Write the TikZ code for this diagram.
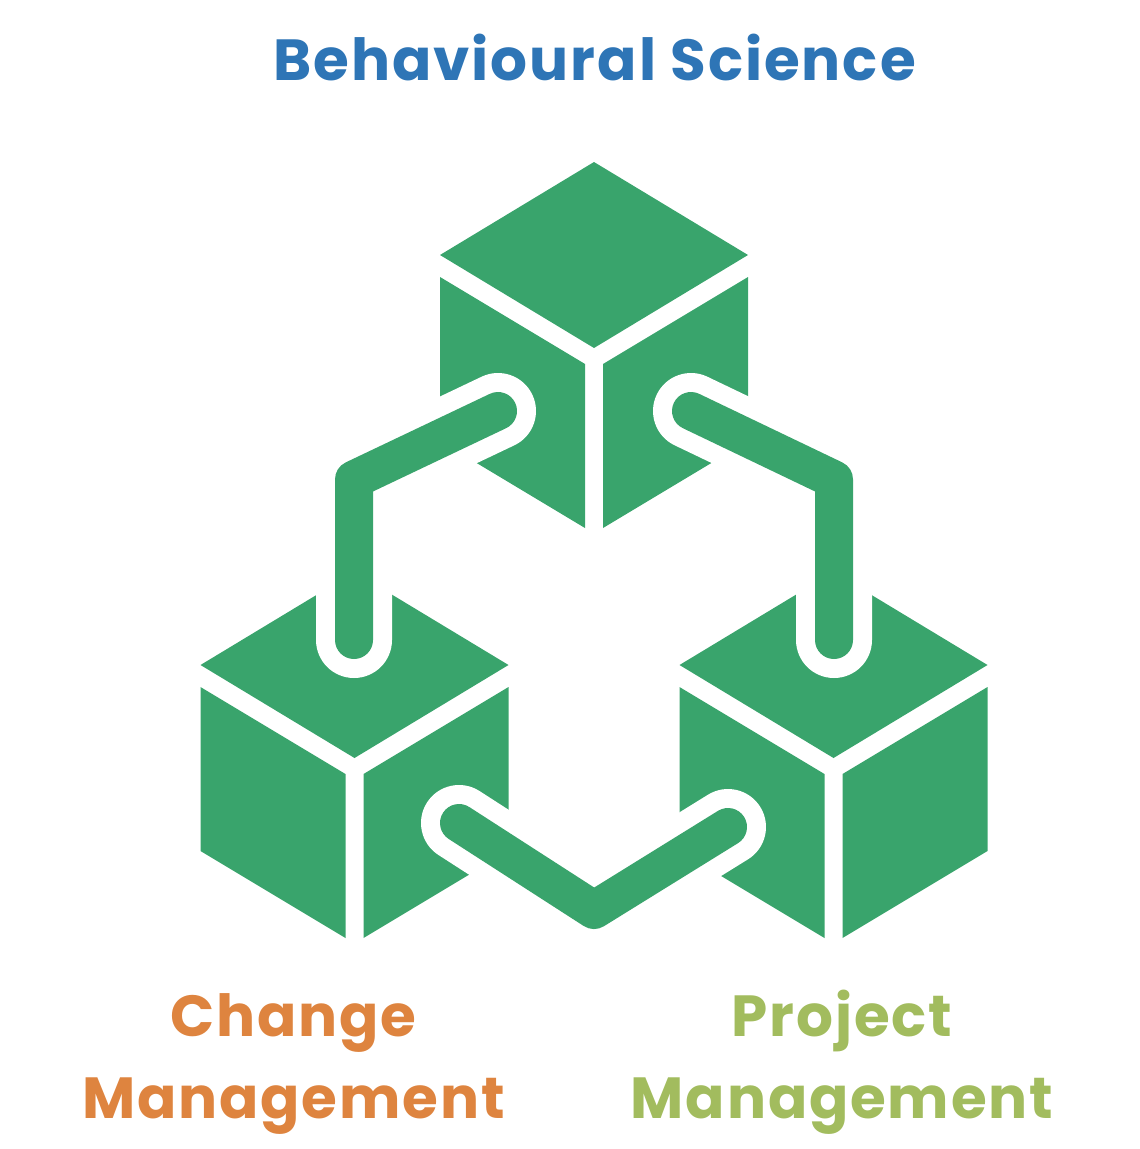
\documentclass[tikz,border=0pt]{standalone}
\usepackage{fontspec}
\newfontfamily\labelfont[LetterSpace=3.1]{Poppins Bold}
\newfontfamily\headfont[LetterSpace=3.4]{Poppins Bold}
\definecolor{cubegreen}{HTML}{39A46C}
\definecolor{scienceblue}{HTML}{2E75B6}
\definecolor{changeorange}{HTML}{DE843F}
\definecolor{projectgreen}{HTML}{A2BC5E}
\tikzset{
  cubeface/.style={fill=cubegreen},
  linkhalo/.style={draw=white,line width=57pt,line cap=round,line join=round},
  linkbar/.style={draw=cubegreen,line width=28.5pt,line cap=round,line join=round},
  caption/.style={font=\labelfont\fontsize{43.5}{61.5}\selectfont,align=center,anchor=base}
}
\begin{document}
\begin{tikzpicture}[x=0.75pt,y=-0.75pt]
  \useasboundingbox (0,0) rectangle (1139,1149);
  % Cubes
  \foreach \dx/\dy in {0/0,-239.5/410,239.5/410}{
    \begin{scope}[shift={(\dx,\dy)}]
      \fill[cubeface] (594,162) -- (748,255) -- (594,348) -- (440,255) -- cycle;
      \fill[cubeface] (440,277) -- (585,364) -- (585,528) -- (440,441) -- cycle;
      \fill[cubeface] (748,277) -- (603,364) -- (603,528) -- (748,441) -- cycle;
    \end{scope}
  }
  % Links between the cubes
  \foreach \s in {linkhalo,linkbar}{
    \draw[\s] (498,411) -- (354,479.5) -- (354,640);
    \draw[\s] (691,411) -- (834,479.5) -- (834,640);
    \draw[\s] (459,823) -- (594,910) -- (728,827);
  }
  \node[caption,font=\headfont\fontsize{43.5}{61.5}\selectfont,text=scienceblue] (science) at (594.5,80) {Behavioural Science};
  \node[caption,text=changeorange] (change) at (293.5,1118) {Change\\Management};
  \node[caption,text=projectgreen] (project) at (842,1118) {Project\\Management};
\end{tikzpicture}
\end{document}
